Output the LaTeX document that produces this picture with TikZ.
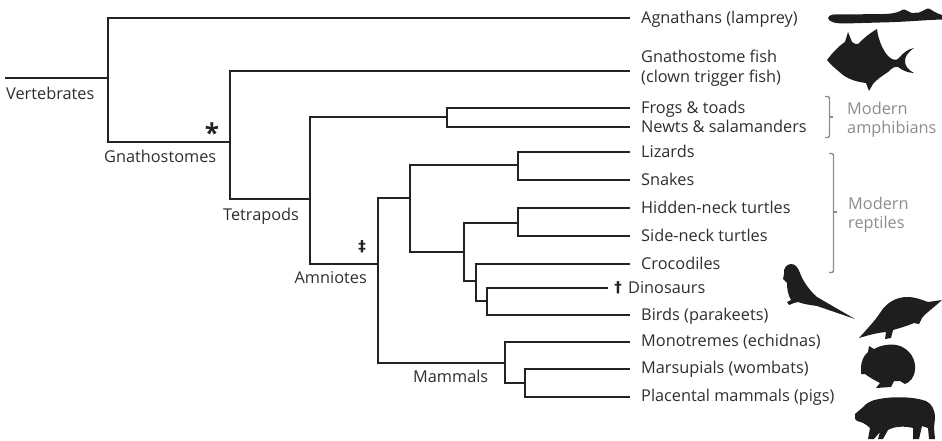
\documentclass[tikz,border=0pt]{standalone}
\usepackage{fontspec}
\setmainfont{Open Sans}
\newfontfamily\markfont{DejaVu Sans}
\definecolor{treeline}{HTML}{222222}
\definecolor{labeltext}{HTML}{2E2E2E}
\definecolor{groupgray}{HTML}{8C8C8C}
\definecolor{shape}{HTML}{1E1E1E}
\begin{document}
\begin{tikzpicture}[x=1pt,y=-1pt,
  branch/.style={draw=treeline,line width=1.6pt,line cap=rect},
  taxon/.style={anchor=base west,inner sep=0pt,text=labeltext,font=\fontsize{16.3}{20}\selectfont},
  clade/.style={inner sep=0pt,text=labeltext,font=\fontsize{16.3}{20}\selectfont},
  groupname/.style={anchor=base west,inner sep=0pt,text=groupgray,font=\fontsize{16.3}{19}\selectfont,align=left},
  brace/.style={draw=groupgray,line width=1.4pt,rounded corners=2pt},
  charmark/.style={inner sep=0pt,text=treeline},
  silhouette/.style={fill=shape,draw=none}
]
\useasboundingbox (0,0) rectangle (942,440);

% ---------- internal nodes ----------
\coordinate (root) at (6,78);
\coordinate (vert) at (108,78);
\coordinate (gnath) at (230,142);
\coordinate (tetra) at (310,199);
\coordinate (amph) at (447,117);
\coordinate (amnio) at (378,264);
\coordinate (rept) at (410,198);
\coordinate (squam) at (518,165);
\coordinate (archel) at (464,252);
\coordinate (turt) at (518,223);
\coordinate (archo) at (476,281);
\coordinate (dinbird) at (487,301);
\coordinate (mamm) at (505,363);
\coordinate (theria) at (525,383);

% ---------- tips ----------
\coordinate (t-agn) at (629,18);
\coordinate (t-fish) at (629,71);
\coordinate (t-frog) at (629,108);
\coordinate (t-newt) at (629,127);
\coordinate (t-liz) at (629,152);
\coordinate (t-snake) at (629,180);
\coordinate (t-hidden) at (629,208);
\coordinate (t-side) at (629,236);
\coordinate (t-croc) at (629,264);
\coordinate (t-dino) at (607,288);
\coordinate (t-bird) at (629,315);
\coordinate (t-mono) at (629,342);
\coordinate (t-mars) at (629,369);
\coordinate (t-plac) at (629,397);

% ---------- branches ----------
\draw[branch] (root) -- (vert);
\draw[branch] (vert) |- (t-agn);
\draw[branch] (vert) |- (gnath);
\draw[branch] (gnath) |- (t-fish);
\draw[branch] (gnath) |- (tetra);
\draw[branch] (tetra) |- (amph);
\draw[branch] (tetra) |- (amnio);
\draw[branch] (amph) |- (t-frog);
\draw[branch] (amph) |- (t-newt);
\draw[branch] (amnio) |- (rept);
\draw[branch] (amnio) |- (mamm);
\draw[branch] (rept) |- (squam);
\draw[branch] (rept) |- (archel);
\draw[branch] (squam) |- (t-liz);
\draw[branch] (squam) |- (t-snake);
\draw[branch] (archel) |- (turt);
\draw[branch] (archel) |- (archo);
\draw[branch] (turt) |- (t-hidden);
\draw[branch] (turt) |- (t-side);
\draw[branch] (archo) |- (t-croc);
\draw[branch] (archo) |- (dinbird);
\draw[branch] (dinbird) |- (t-dino);
\draw[branch] (dinbird) |- (t-bird);
\draw[branch] (mamm) |- (t-mono);
\draw[branch] (mamm) |- (theria);
\draw[branch] (theria) |- (t-mars);
\draw[branch] (theria) |- (t-plac);

% ---------- clade names ----------
\node[clade,anchor=base west] (l-vert) at (6,99.8) {Vertebrates};
\node[clade,anchor=base west] (l-gnath) at (104,162.8) {Gnathostomes};
\node[clade,anchor=base west] (l-tetra) at (223,220.8) {Tetrapods};
\node[clade,anchor=base east] (l-amnio) at (367,283.8) {Amniotes};
\node[clade,anchor=base west] (l-mamm) at (413,382.8) {Mammals};

% ---------- character marks ----------
\node[charmark,font=\bfseries\fontsize{26}{26}\selectfont] (m-star) at (212,133) {*};
\node[charmark,font=\markfont\bfseries\fontsize{15}{15}\selectfont] (m-ddag) at (362,247) {‡};
\node[charmark,font=\markfont\bfseries\fontsize{15}{15}\selectfont] (m-dag) at (618,288) {†};

% ---------- taxon names ----------
\node[taxon] (n-agn) at (641,23.4) {Agnathans (lamprey)};
\node[taxon,align=left] (n-fish) at (641,82.8) {Gnathostome fish\\(clown trigger fish)};
\node[taxon] (n-frog) at (641,113.6) {Frogs \& toads};
\node[taxon] (n-newt) at (641,132.6) {Newts \& salamanders};
\node[taxon] (n-liz) at (641,157.6) {Lizards};
\node[taxon] (n-snake) at (641,185.6) {Snakes};
\node[taxon] (n-hidden) at (641,213.6) {Hidden-neck turtles};
\node[taxon] (n-side) at (641,241.6) {Side-neck turtles};
\node[taxon] (n-croc) at (641,269.6) {Crocodiles};
\node[taxon] (n-dino) at (628,293.6) {Dinosaurs};
\node[taxon] (n-bird) at (641,320.4) {Birds (parakeets)};
\node[taxon] (n-mono) at (641,346.4) {Monotremes (echidnas)};
\node[taxon] (n-mars) at (641,373.4) {Marsupials (wombats)};
\node[taxon] (n-plac) at (641,401.4) {Placental mammals (pigs)};

% ---------- group braces ----------
\draw[brace] (825,96.5) -- (829.5,96.5) -- (829.5,137.5) -- (825,137.5);
\draw[draw=groupgray,line width=1.4pt] (829.5,117) -- (832.5,117);
\node[groupname] (g-amph) at (847,133.8) {Modern\\amphibians};

\draw[brace] (829,153.5) -- (833.5,153.5) -- (833.5,272.5) -- (829,272.5);
\draw[draw=groupgray,line width=1.4pt] (833.5,212) -- (836.5,212);
\node[groupname] (g-rept) at (848,228.8) {Modern\\reptiles};

% ---------- silhouettes ----------
% lamprey
\fill[silhouette] (828,18) .. controls (829,14.5) and (834,14) .. (840,14.5)
  -- (885,14) .. controls (895,13.5) and (899,12) .. (903,9.5)
  .. controls (906,9) and (908,12) .. (912,13) -- (919,12.5)
  .. controls (924,11) and (926,8) .. (929,8.5)
  .. controls (932,10) and (935,13) .. (942,15) -- (942,19.5)
  .. controls (925,20) and (905,22) .. (880,22.5)
  -- (845,23.5) .. controls (835,23.5) and (829,22) .. (828,18) -- cycle;
% clown trigger fish
\fill[silhouette] (827,60) .. controls (833,52) and (840,45) .. (845,42)
  -- (848,32) -- (852,42) .. controls (854,44) and (856,44) .. (858,44)
  .. controls (864,38) and (870,33) .. (877,29)
  .. controls (878,38) and (882,50) .. (889,57)
  .. controls (893,60) and (896,61) .. (899,58)
  .. controls (903,53) and (908,49) .. (914,48)
  .. controls (907,53) and (905,57) .. (905,61)
  .. controls (905,66) and (908,70) .. (914,73)
  .. controls (908,73) and (902,70) .. (898,67)
  .. controls (895,66) and (892,68) .. (888,72)
  .. controls (882,76) and (876,80) .. (873,84)
  -- (869,91) -- (866,83)
  .. controls (858,82) and (850,80) .. (843,75)
  .. controls (837,70) and (831,65) .. (827,60) -- cycle;
% parakeet
\fill[silhouette] (784,274) .. controls (783,268) and (787,264) .. (791,264)
  .. controls (796,264) and (798,268) .. (800,273)
  .. controls (803,281) and (809,290) .. (817,297)
  -- (855,319) -- (817,306)
  .. controls (810,305) and (803,304) .. (798,302)
  -- (794,303) -- (789,305) -- (787,302) -- (791,300)
  .. controls (788,295) and (787,289) .. (787,283)
  -- (783,279) -- cycle;
% echidna
\fill[silhouette] (859,338) .. controls (866,330) and (874,322) .. (880,313)
  .. controls (886,303) and (896,297) .. (907,297)
  .. controls (916,297) and (922,300) .. (928,302)
  -- (942,300) -- (934,307)
  .. controls (928,312) and (924,315) .. (922,318)
  -- (919,324) -- (914,323)
  .. controls (907,326) and (900,328) .. (893,330)
  -- (891,338) -- (885,339) -- (886,332)
  .. controls (875,333) and (866,336) .. (859,338) -- cycle;
% wombat
\fill[silhouette] (861,369) .. controls (861,361) and (864,355) .. (868,352)
  -- (869,346) -- (874,349)
  .. controls (881,345) and (892,343) .. (900,346)
  .. controls (910,350) and (916,359) .. (915,370)
  .. controls (914,378) and (910,382) .. (905,384)
  -- (900,381) -- (894,381) -- (891,387)
  -- (876,388) -- (880,383)
  .. controls (874,380) and (869,377) .. (865,374)
  -- (861,374) -- cycle;
% pig
\fill[silhouette] (855,414) -- (862,408) .. controls (866,403) and (872,400) .. (879,399)
  .. controls (895,396) and (915,397) .. (926,401)
  .. controls (932,404) and (935,410) .. (935,418)
  -- (934,428) -- (935,439) -- (929,439) -- (928,428)
  -- (922,426) -- (919,439) -- (913,439) -- (913,428)
  .. controls (905,426) and (895,426) .. (888,430)
  -- (883,439) -- (878,439) -- (880,432) -- (874,439) -- (868,439)
  -- (870,428) .. controls (866,424) and (862,422) .. (857,421)
  -- (855,419) -- cycle;
\end{tikzpicture}
\end{document}
